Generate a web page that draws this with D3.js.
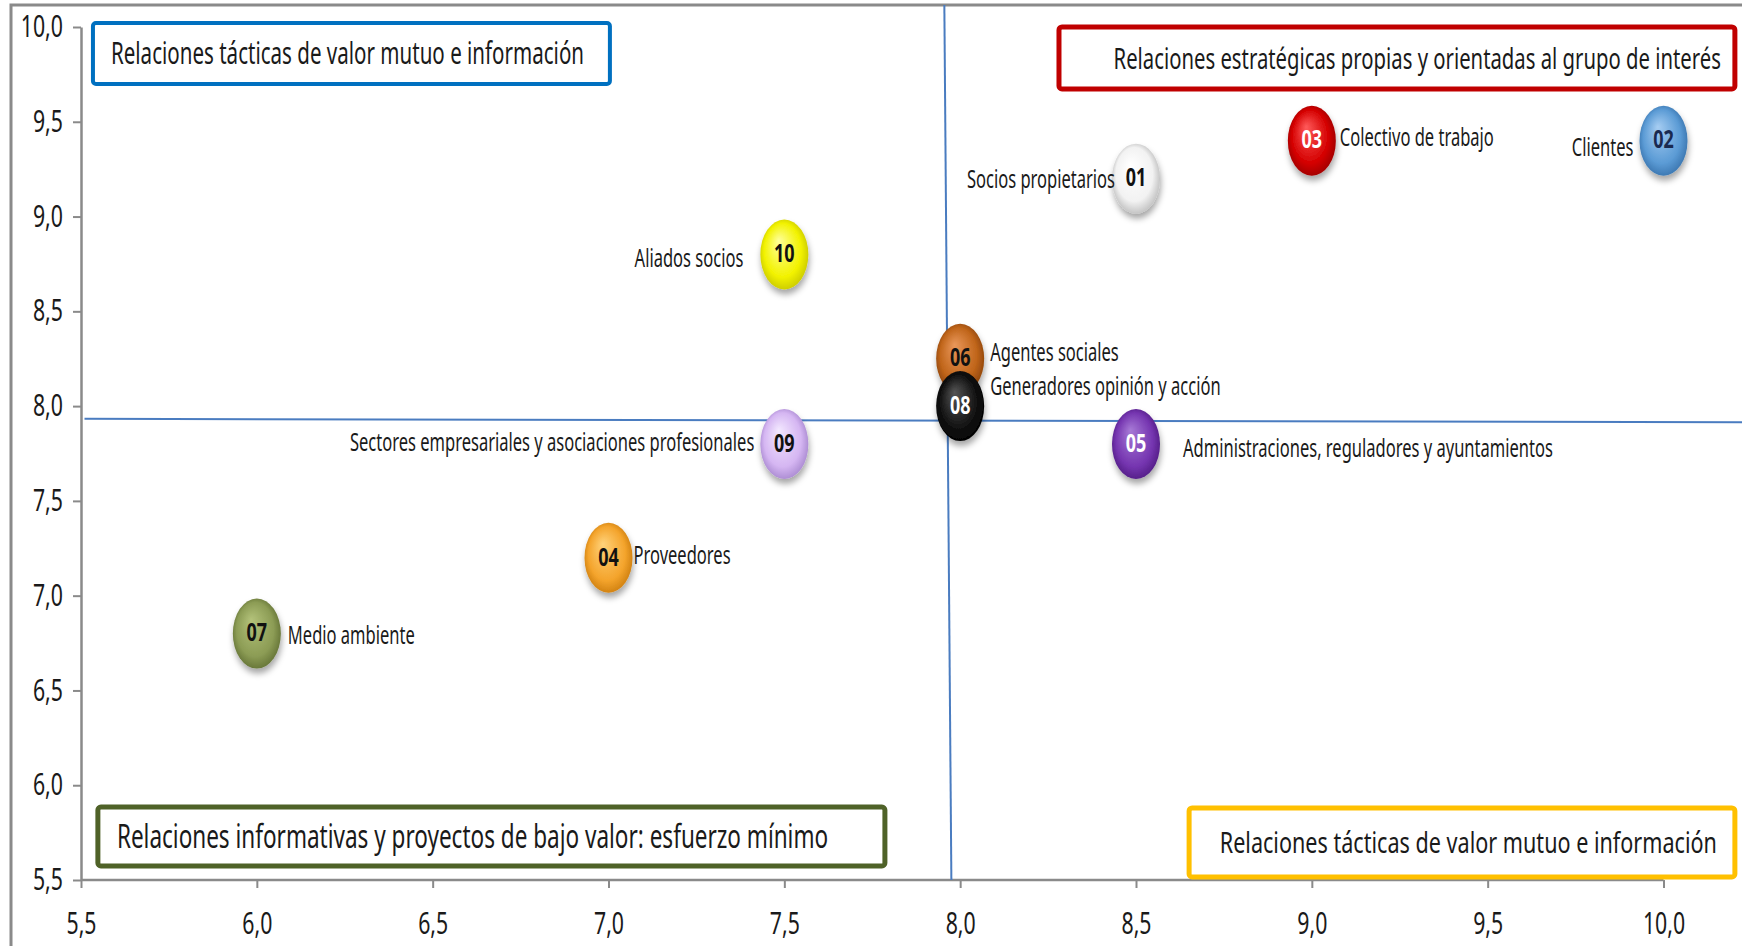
<!DOCTYPE html>
<html><head><meta charset="utf-8">
<script src="https://cdn.jsdelivr.net/npm/d3@7"></script>
<style>
html,body{margin:0;padding:0;background:#fff;}
svg text{font-family:"Noto Sans","Open Sans","DejaVu Sans",sans-serif;fill:#1a1a1a;}
</style></head>
<body><svg id="c" width="1742" height="946"></svg>
<script>
// ---- data ----
const codes  = ["01","02","03","04","05","06","07","08","09","10"];
const names  = ["Socios propietarios","Clientes","Colectivo de trabajo","Proveedores",
  "Administraciones, reguladores y ayuntamientos","Agentes sociales","Medio ambiente",
  "Generadores opinión y acción","Sectores empresariales y asociaciones profesionales","Aliados socios"];
const xValues = [8.5, 10.0, 9.0, 7.0, 8.5, 8.0, 6.0, 8.0, 7.5, 7.5];
const yValues = [9.2, 9.4, 9.4, 7.2, 7.8, 8.25, 6.8, 8.0, 7.8, 8.8];
const xTicks = [5.5,6.0,6.5,7.0,7.5,8.0,8.5,9.0,9.5,10.0];
const yTicks = [5.5,6.0,6.5,7.0,7.5,8.0,8.5,9.0,9.5,10.0];
const quadrantTitles = ["Relaciones tácticas de valor mutuo e información",
  "Relaciones estratégicas propias y orientadas al grupo de interés",
  "Relaciones informativas y proyectos de bajo valor: esfuerzo mínimo",
  "Relaciones tácticas de valor mutuo e información"];
// quadrant divider lines (data units)
const vDivider = [[7.955,10.116],[7.975,5.5]];
const hDivider = [[5.51,7.933],[10.23,7.915]];

// ---- styles / layout ----
const fills = [
  ["#ffffff","#f2f2f2","#b8b8b8"], ["#a6cdf2","#5b9bd5","#3670aa"], ["#ff5a5a","#d40000","#980000"],
  ["#ffd27a","#f4a42c","#c97a0c"], ["#a77ad6","#7535b0","#4e1a80"], ["#e9975a","#c0651a","#8a420a"],
  ["#b3c27a","#8c9c55","#5f6e32"], ["#555555","#111111","#000000"], ["#f3e8ff","#d5b6f2","#a383cc"],
  ["#ffff9a","#f2f200","#c4c400"]];
const numColor = ["#111","#1a2a50","#fff","#111","#fff","#111","#111","#fff","#111","#111"];
// label side and offset (px) relative to bubble centre
const labelLayout = [
  {a:"end",dx:-21,dy:-1},{a:"end",dx:-30,dy:5},{a:"start",dx:28,dy:-5},{a:"start",dx:25,dy:-4},
  {a:"start",dx:47,dy:3},{a:"start",dx:30,dy:-8},{a:"start",dx:31,dy:0},{a:"start",dx:30,dy:-21},
  {a:"end",dx:-30,dy:-3},{a:"end",dx:-41,dy:2}];
const boxes = [ // data-unit extents, color, anchor, font size, horizontal compression
  {x0:5.534,x1:7.004,y0:10.021,y1:9.699,c:"#0070c0",a:"start",pad:18,fs:30,k:0.685,sw:4},
  {x0:8.281,x1:10.203,y0:10.0,y1:9.673,c:"#c00000",a:"end",pad:14,fs:29,k:0.70,sw:5},
  {x0:5.548,x1:7.786,y0:5.885,y1:5.574,c:"#4f6228",a:"start",pad:19,fs:32,k:0.704,sw:5},
  {x0:8.651,x1:10.203,y0:5.880,y1:5.516,c:"#ffc000",a:"end",pad:18,fs:30,k:0.72,sw:5}];
const LABEL_K = 0.636, NUM_K = 0.72, TICK_K = 0.71;

const svg = d3.select("#c");
const x = d3.scaleLinear().domain([5.5,10]).range([81,1663.5]);
const y = d3.scaleLinear().domain([5.5,10]).range([880,27]);

// condensed text: a group translated to the anchor point, scaled horizontally
function ctext(parent, px, py, k){
  return parent.append("g").attr("transform",`translate(${px},${py}) scale(${k},1)`).append("text");
}

// outer frame
svg.append("path").attr("d","M11,946 V5 H1742").attr("fill","none").attr("stroke","#8a8a8a").attr("stroke-width",3);

const defs = svg.append("defs");
fills.forEach((f,i)=>{
  const g = defs.append("radialGradient").attr("id","g"+i).attr("cx","50%").attr("cy","50%").attr("r","55%")
    .attr("fx","38%").attr("fy","30%");
  g.append("stop").attr("offset","0%").attr("stop-color",f[0]);
  g.append("stop").attr("offset","70%").attr("stop-color",f[1]);
  g.append("stop").attr("offset","100%").attr("stop-color",f[2]);
});
const flt = defs.append("filter").attr("id","sh").attr("x","-50%").attr("y","-50%").attr("width","200%").attr("height","200%");
flt.append("feDropShadow").attr("dx",1).attr("dy",5).attr("stdDeviation",3).attr("flood-color","#000").attr("flood-opacity",0.35);

// axes
const fmt = d => d3.format(".1f")(d).replace(".",",");
const gx = svg.append("g").attr("transform",`translate(0,${y(5.5)})`)
  .call(d3.axisBottom(x).tickValues(xTicks).tickFormat(fmt).tickSize(8).tickPadding(25).tickSizeOuter(0));
const gy = svg.append("g").attr("transform",`translate(${x(5.5)},0)`)
  .call(d3.axisLeft(y).tickValues(yTicks).tickFormat(fmt).tickSize(8).tickPadding(10).tickSizeOuter(0));
[gx,gy].forEach(g=>{
  g.select(".domain").attr("stroke","#8a8a8a").attr("stroke-width",2.5);
  g.selectAll(".tick line").attr("stroke","#8a8a8a").attr("stroke-width",2);
  g.selectAll(".tick text").each(function(){
    // wrap each tick label in a horizontally condensed group at its own anchor
    const t = d3.select(this);
    const tx = +t.attr("x")||0, ty = +t.attr("y")||0;
    const wrap = d3.select(this.parentNode).append("g").attr("transform",`translate(${tx},${ty}) scale(${TICK_K},1)`);
    wrap.node().appendChild(this);
    t.attr("x",0).attr("y",0).attr("font-size",30).attr("fill","#1a1a1a")
      .style("font-family",'"Noto Sans","Open Sans","DejaVu Sans",sans-serif');
  });
});
gx.select(".domain").attr("d",`M${x(5.5)},0H${x(10)}`);

// quadrant boxes
boxes.forEach((b,i)=>{
  svg.append("rect").attr("x",x(b.x0)).attr("y",y(b.y0)).attr("width",x(b.x1)-x(b.x0)).attr("height",y(b.y1)-y(b.y0))
    .attr("rx",3).attr("fill","#fff").attr("stroke",b.c).attr("stroke-width",b.sw);
  ctext(svg, b.a==="start" ? x(b.x0)+b.pad : x(b.x1)-b.pad, (y(b.y0)+y(b.y1))/2-1, b.k)
    .attr("dominant-baseline","central").attr("text-anchor",b.a)
    .attr("font-size",b.fs).text(quadrantTitles[i]);
});

// dividers
const line = d3.line().x(d=>x(d[0])).y(d=>y(d[1]));
svg.append("path").attr("d",line(vDivider)).attr("stroke","#4a7cc0").attr("stroke-width",2).attr("fill","none");
svg.append("path").attr("d",line(hDivider)).attr("stroke","#4a7cc0").attr("stroke-width",2).attr("fill","none");

// bubbles
const data = codes.map((c,i)=>({c,n:names[i],x:xValues[i],y:yValues[i],i}));
const pts = svg.append("g").selectAll("g").data(data).join("g")
  .attr("transform",d=>`translate(${x(d.x)},${y(d.y)})`);
pts.append("ellipse").attr("rx",24).attr("ry",35).attr("fill",d=>`url(#g${d.i})`).attr("filter","url(#sh)");
pts.each(function(d){
  const g = d3.select(this);
  ctext(g, 0, -2, NUM_K).attr("text-anchor","middle").attr("dominant-baseline","central")
    .attr("font-size",25).attr("font-weight","bold").style("fill",numColor[d.i]).text(d.c);
  const L = labelLayout[d.i];
  ctext(g, L.dx, L.dy, LABEL_K).attr("text-anchor",L.a).attr("dominant-baseline","central")
    .attr("font-size",26).text(d.n);
});
</script></body></html>
